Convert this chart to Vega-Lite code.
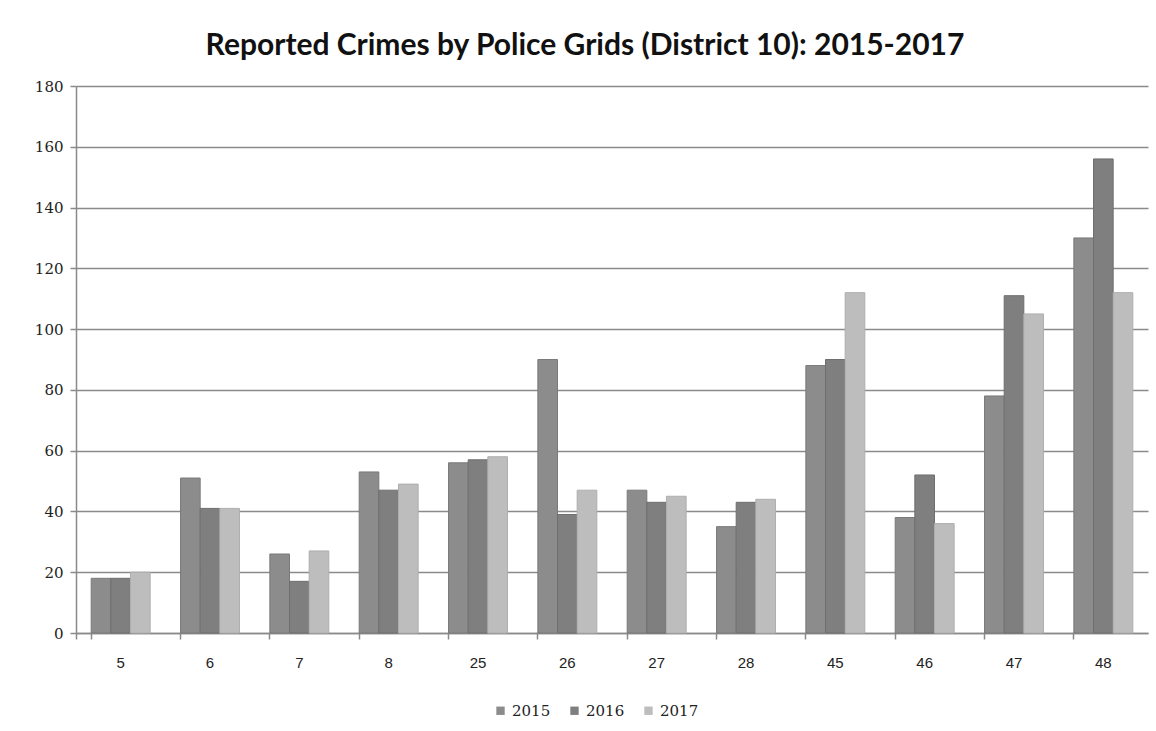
{
  "$schema": "https://vega.github.io/schema/vega-lite/v6.json",
  "width": 1072,
  "height": 547,
  "autosize": {"type": "none"},
  "padding": {"left": 76, "top": 86, "right": 8, "bottom": 98},
  "background": "white",
  "title": {
    "text": "Reported Crimes by Police Grids (District 10): 2015-2017",
    "font": "Lato",
    "fontSize": 30,
    "fontWeight": "bold",
    "color": "#111111",
    "anchor": "middle",
    "dx": -27,
    "offset": 18
  },
  "data": {
    "values": [
      {"grid": "5", "year": "2015", "crimes": 18},
      {"grid": "5", "year": "2016", "crimes": 18},
      {"grid": "5", "year": "2017", "crimes": 20},
      {"grid": "6", "year": "2015", "crimes": 51},
      {"grid": "6", "year": "2016", "crimes": 41},
      {"grid": "6", "year": "2017", "crimes": 41},
      {"grid": "7", "year": "2015", "crimes": 26},
      {"grid": "7", "year": "2016", "crimes": 17},
      {"grid": "7", "year": "2017", "crimes": 27},
      {"grid": "8", "year": "2015", "crimes": 53},
      {"grid": "8", "year": "2016", "crimes": 47},
      {"grid": "8", "year": "2017", "crimes": 49},
      {"grid": "25", "year": "2015", "crimes": 56},
      {"grid": "25", "year": "2016", "crimes": 57},
      {"grid": "25", "year": "2017", "crimes": 58},
      {"grid": "26", "year": "2015", "crimes": 90},
      {"grid": "26", "year": "2016", "crimes": 39},
      {"grid": "26", "year": "2017", "crimes": 47},
      {"grid": "27", "year": "2015", "crimes": 47},
      {"grid": "27", "year": "2016", "crimes": 43},
      {"grid": "27", "year": "2017", "crimes": 45},
      {"grid": "28", "year": "2015", "crimes": 35},
      {"grid": "28", "year": "2016", "crimes": 43},
      {"grid": "28", "year": "2017", "crimes": 44},
      {"grid": "45", "year": "2015", "crimes": 88},
      {"grid": "45", "year": "2016", "crimes": 90},
      {"grid": "45", "year": "2017", "crimes": 112},
      {"grid": "46", "year": "2015", "crimes": 38},
      {"grid": "46", "year": "2016", "crimes": 52},
      {"grid": "46", "year": "2017", "crimes": 36},
      {"grid": "47", "year": "2015", "crimes": 78},
      {"grid": "47", "year": "2016", "crimes": 111},
      {"grid": "47", "year": "2017", "crimes": 105},
      {"grid": "48", "year": "2015", "crimes": 130},
      {"grid": "48", "year": "2016", "crimes": 156},
      {"grid": "48", "year": "2017", "crimes": 112}
    ]
  },
  "config": {
    "view": {"stroke": null},
    "axis": {"domainColor": "#8a8a8a", "tickColor": "#8a8a8a", "gridColor": "#8a8a8a", "domainWidth": 1.5, "tickWidth": 1.5, "gridWidth": 1.5}
  },
  "resolve": {"axis": {"x": "independent"}},
  "layer": [
    {
      "mark": {"type": "bar", "strokeWidth": 1},
      "encoding": {
        "x": {
          "field": "grid",
          "type": "nominal",
          "sort": null,
          "scale": {"paddingInner": 0.34, "paddingOuter": 0.17},
          "axis": {
            "title": null,
            "orient": "bottom",
            "labelAngle": 0,
            "labelFont": "Liberation Sans",
            "labelFontSize": 15,
            "labelColor": "#222222",
            "labelPadding": 22,
            "ticks": false,
            "domain": true
          }
        },
        "xOffset": {"field": "year", "type": "nominal"},
        "y": {
          "field": "crimes",
          "type": "quantitative",
          "scale": {"domain": [0, 180]},
          "axis": {
            "title": null,
            "values": [0, 20, 40, 60, 80, 100, 120, 140, 160, 180],
            "labelFont": "DejaVu Serif",
            "labelFontSize": 15,
            "labelColor": "#222222",
            "labelPadding": 7,
            "tickSize": 6,
            "grid": true
          }
        },
        "color": {
          "field": "year",
          "type": "nominal",
          "scale": {"domain": ["2015", "2016", "2017"], "range": ["#8c8c8c", "#7f7f7f", "#bdbdbd"]},
          "legend": {
            "title": null,
            "orient": "none",
            "direction": "horizontal",
            "legendX": 417,
            "legendY": 617,
            "symbolType": "square",
            "symbolSize": 70,
            "symbolStrokeWidth": 0,
            "labelFont": "DejaVu Serif",
            "labelFontSize": 15,
            "labelColor": "#222222",
            "columnPadding": 16,
            "labelOffset": 4
          }
        },
        "stroke": {
          "field": "year",
          "type": "nominal",
          "scale": {"domain": ["2015", "2016", "2017"], "range": ["#7a7a7a", "#6e6e6e", "#aeaeae"]},
          "legend": null
        }
      }
    },
    {
      "mark": {"type": "tick", "opacity": 0},
      "encoding": {
        "x": {
          "field": "grid",
          "type": "nominal",
          "sort": null,
          "axis": {
            "title": null,
            "orient": "bottom",
            "labels": false,
            "domain": false,
            "ticks": true,
            "bandPosition": 0,
            "tickExtra": true,
            "tickSize": 6
          }
        }
      }
    }
  ]
}
